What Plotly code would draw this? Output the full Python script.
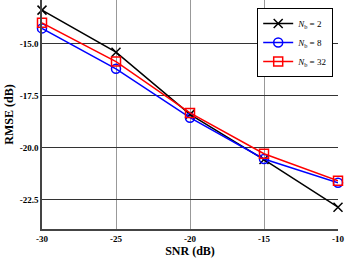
import plotly.graph_objects as go

snr = [-30, -25, -20, -15, -10]
rmse_nb2 = [-13.37, -15.40, -18.40, -20.58, -22.88]
rmse_nb8 = [-14.25, -16.20, -18.56, -20.55, -21.70]
rmse_nb32 = [-13.98, -15.85, -18.33, -20.30, -21.60]
names = ["<i>N</i><sub>b</sub> = 2", "<i>N</i><sub>b</sub> = 8", "<i>N</i><sub>b</sub> = 32"]
x_ticks = [-30, -25, -20, -15, -10]
y_ticks = [-22.5, -20.0, -17.5, -15.0]

fig = go.Figure()
styles = [
    ("black", "x-thin-open", rmse_nb2),
    ("blue", "circle-open", rmse_nb8),
    ("red", "square-open", rmse_nb32),
]
for (color, sym, vals), nm in zip(styles, names):
    fig.add_trace(go.Scatter(
        x=snr, y=vals, mode="lines+markers", name=nm,
        line=dict(color=color, width=1.5),
        marker=dict(symbol=sym, size=9, color=color, line=dict(color=color, width=1.5)),
        cliponaxis=False,
    ))

fig.update_layout(
    width=346, height=260,
    margin=dict(l=42, r=8, t=0, b=31),
    paper_bgcolor="white", plot_bgcolor="white",
    font=dict(family="Liberation Serif", color="black"),
    showlegend=True,
    legend=dict(x=0.727, y=0.965, xanchor="left", yanchor="top",
                bgcolor="white", bordercolor="black", borderwidth=1,
                font=dict(family="Liberation Serif", size=9),
                itemwidth=30, tracegroupgap=0),
)
fig.update_xaxes(
    range=[-30, -10], tickvals=x_ticks, ticktext=[f"<b>{v}</b>" for v in x_ticks],
    tickfont=dict(size=9), showgrid=True, gridcolor="#999999", gridwidth=1,
    showline=True, linecolor="#444444", linewidth=1.5, zeroline=False,
    ticks="", title=dict(text="<b>SNR (dB)</b>", font=dict(size=12), standoff=0),
)
fig.update_yaxes(
    range=[-23.93, -12.88], tickvals=y_ticks, ticktext=[f"<b>{v:.1f}</b>" for v in y_ticks],
    tickfont=dict(size=9), showgrid=True, gridcolor="#333333", gridwidth=1,
    showline=True, linecolor="#444444", linewidth=1.5, zeroline=False,
    ticks="", title=dict(text="<b>RMSE (dB)</b>", font=dict(size=12), standoff=4),
)
fig.write_html("out.html", config={"displayModeBar": False},
               post_script="document.body.style.margin='0';document.body.style.overflow='hidden';")
